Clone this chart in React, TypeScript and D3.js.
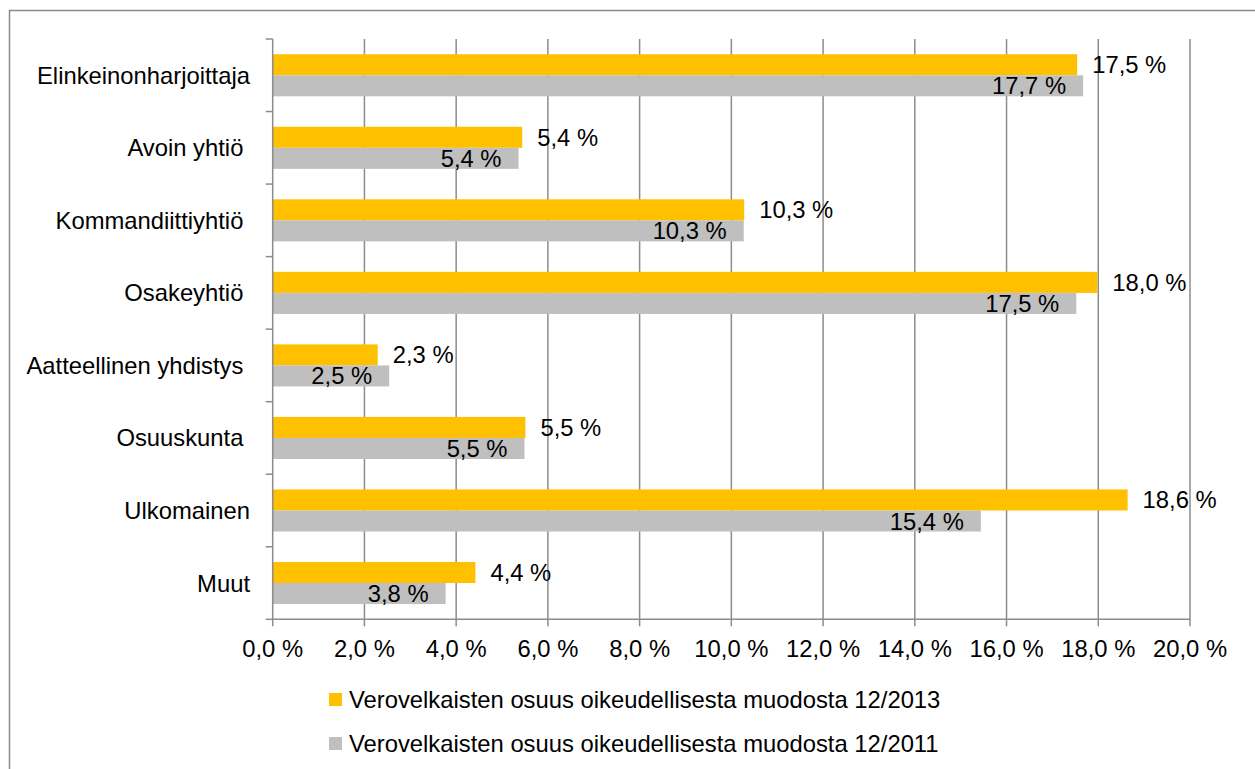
import React from "react";
import * as d3 from "d3";

const categories = [
  "Elinkeinonharjoittaja",
  "Avoin yhtiö ",
  "Kommandiittiyhtiö ",
  "Osakeyhtiö ",
  "Aatteellinen yhdistys ",
  "Osuuskunta ",
  "Ulkomainen",
  "Muut",
];
const values2013 = [17.54, 5.44, 10.28, 17.98, 2.29, 5.51, 18.64, 4.42];
const values2011 = [17.67, 5.36, 10.27, 17.52, 2.54, 5.49, 15.44, 3.77];
const seriesNames = [
  "Verovelkaisten osuus oikeudellisesta muodosta 12/2013",
  "Verovelkaisten osuus oikeudellisesta muodosta 12/2011",
];
const seriesColors = ["#FFC000", "#BFBFBF"];
const xTicks = [0, 2, 4, 6, 8, 10, 12, 14, 16, 18, 20];

const W = 1255;
const H = 769;
const left = 272.7;
const right = 1190;
const top = 39;
const bottom = 619.3;
const FONT = "'Liberation Sans', Arial, sans-serif";
const FS = 23.8;
const gridColor = "#8C8C8C";

const fmt = (v: number) => v.toFixed(1).replace(".", ",") + " %";

export default function App() {
  const x = d3.scaleLinear().domain([0, 20]).range([left, right]);
  const y = d3
    .scaleBand<string>()
    .domain(categories)
    .range([top, bottom])
    .paddingInner(0.42)
    .paddingOuter(0.21);
  const sub = d3
    .scaleBand<number>()
    .domain([0, 1])
    .range([0, y.bandwidth()]);
  const series = [values2013, values2011];
  const step = (bottom - top) / categories.length;
  const boundaries = d3.range(categories.length + 1).map((i) => top + i * step);

  return (
    <svg
      width={W}
      height={H}
      style={{ position: "absolute", left: 0, top: 0, background: "#fff" }}
      fontFamily={FONT}
    >
      <rect x={9.5} y={10.5} width={1270} height={790} fill="#fff" stroke="#8A8A8A" strokeWidth={1.5} />
      {/* gridlines */}
      {xTicks.slice(1).map((t) => (
        <line key={"g" + t} x1={x(t)} x2={x(t)} y1={top} y2={bottom} stroke={gridColor} strokeWidth={1.5} />
      ))}
      {/* bars */}
      {categories.map((c, i) =>
        series.map((s, si) => (
          <rect
            key={c + si}
            x={x(0)}
            y={(y(c) as number) + (sub(si) as number)}
            width={x(s[i]) - x(0)}
            height={sub.bandwidth()}
            fill={seriesColors[si]}
          />
        ))
      )}
      {/* axes */}
      <line x1={left} x2={left} y1={top} y2={bottom} stroke={gridColor} strokeWidth={1.5} />
      <line x1={left} x2={right} y1={bottom} y2={bottom} stroke={gridColor} strokeWidth={1.5} />
      {boundaries.map((b, i) => (
        <line key={"yt" + i} x1={left - 7} x2={left} y1={b} y2={b} stroke={gridColor} strokeWidth={1.5} />
      ))}
      {xTicks.map((t) => (
        <line key={"xt" + t} x1={x(t)} x2={x(t)} y1={bottom} y2={bottom + 7} stroke={gridColor} strokeWidth={1.5} />
      ))}
      {/* category labels */}
      {categories.map((c) => (
        <text
          key={"cl" + c}
          x={250}
          y={(y(c) as number) + y.bandwidth() / 2}
          textAnchor="end"
          dominantBaseline="central"
          fontSize={FS}
          fill="#000"
          style={{ whiteSpace: "pre" }}
        >
          {c}
        </text>
      ))}
      {/* x tick labels */}
      {xTicks.map((t) => (
        <text
          key={"xl" + t}
          x={x(t)}
          y={648}
          textAnchor="middle"
          dominantBaseline="central"
          fontSize={FS}
          fill="#000"
        >
          {fmt(t)}
        </text>
      ))}
      {/* value labels */}
      {categories.map((c, i) => (
        <g key={"vl" + c}>
          <text
            x={x(values2013[i]) + 15}
            y={(y(c) as number) + (sub(0) as number) + sub.bandwidth() / 2}
            textAnchor="start"
            dominantBaseline="central"
            fontSize={FS}
            fill="#000"
          >
            {fmt(values2013[i])}
          </text>
          <text
            x={x(values2011[i]) - 17}
            y={(y(c) as number) + (sub(1) as number) + sub.bandwidth() / 2}
            textAnchor="end"
            dominantBaseline="central"
            fontSize={FS}
            fill="#000"
          >
            {fmt(values2011[i])}
          </text>
        </g>
      ))}
      {/* legend */}
      {seriesNames.map((n, i) => (
        <g key={"lg" + i} transform={`translate(329, ${693 + i * 44})`}>
          <rect x={0} y={0} width={13} height={13} fill={seriesColors[i]} />
          <text x={20} y={6.5} dominantBaseline="central" fontSize={FS} fill="#000">
            {n}
          </text>
        </g>
      ))}
    </svg>
  );
}
